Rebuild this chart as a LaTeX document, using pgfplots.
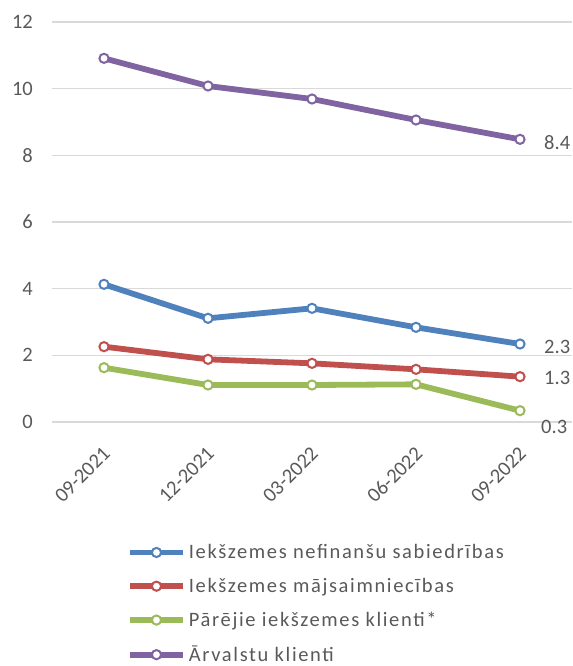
\documentclass[border=0pt]{standalone}
\usepackage{fontspec}
\setmainfont{Carlito}
\newfontfamily\legfont[LetterSpace=8]{Carlito}
\usepackage{pgfplots}
\pgfplotsset{compat=1.18}
\definecolor{cblue}{HTML}{4F81BD}
\definecolor{cred}{HTML}{C0504D}
\definecolor{cgreen}{HTML}{9BBB59}
\definecolor{cpurple}{HTML}{8064A2}
\definecolor{ctext}{HTML}{595959}
\definecolor{cgrid}{HTML}{D9D9D9}
\newcommand{\cf}{\fontsize{20.5bp}{24bp}\selectfont}
\newcommand{\lf}{\legfont\fontsize{20.5bp}{24bp}\selectfont}
\begin{document}
\begin{tikzpicture}
\path[use as bounding box] (-52bp,-244bp) rectangle (521bp,422bp);
\begin{axis}[
  at={(0,0)}, anchor=south west,
  width=520bp, height=400bp, scale only axis,
  xmin=-0.5, xmax=4.5, ymin=0, ymax=12,
  xtick={0,1,2,3,4},
  xticklabels={09-2021,12-2021,03-2022,06-2022,09-2022},
  ytick={0,2,4,6,8,10,12},
  ymajorgrids, grid style={cgrid, line width=1.3bp},
  axis line style={draw=none},
  major tick length=0pt,
  clip=false,
  /pgf/number format/assume math mode=true,
  tick label style={font=\cf, text=ctext},
  x tick label style={rotate=45, anchor=north east, inner sep=0pt, yshift=-15bp, xshift=-18bp},
  y tick label style={anchor=east, inner sep=0pt, xshift=-19bp},
  every axis plot/.append style={line width=5.8bp, mark=*, mark size=4.6bp,
    mark options={fill=white, line width=2bp}},
  legend style={at={(0.144,-0.301)}, anchor=north west, draw=none, fill=none,
    font=\lf, text=ctext, inner sep=0pt, row sep=14bp,
    nodes={inner xsep=3bp, inner ysep=2bp}, cells={anchor=west}},
  legend image code/.code={\draw[#1, mark repeat=2, mark phase=2] plot coordinates {(0bp,0bp) (26.5bp,0bp) (53bp,0bp)};},
]
\addplot[cblue] coordinates {(0,4.13) (1,3.11) (2,3.41) (3,2.84) (4,2.34)};
\addlegendentry{Iekšzemes nefinanšu sabiedrības}
\addplot[cred] coordinates {(0,2.26) (1,1.88) (2,1.76) (3,1.58) (4,1.36)};
\addlegendentry{Iekšzemes mājsaimniecības}
\addplot[cgreen] coordinates {(0,1.63) (1,1.11) (2,1.11) (3,1.13) (4,0.34)};
\addlegendentry{Pārējie iekšzemes klienti*}
\addplot[cpurple] coordinates {(0,10.91) (1,10.08) (2,9.69) (3,9.06) (4,8.48)};
\addlegendentry{Ārvalstu klienti}
\node[anchor=west, inner sep=0pt, font=\cf, text=ctext, xshift=24bp, yshift=-3bp] at (axis cs:4,8.48) {8.4};
\node[anchor=west, inner sep=0pt, font=\cf, text=ctext, xshift=24bp, yshift=-3bp] at (axis cs:4,2.34) {2.3};
\node[anchor=west, inner sep=0pt, font=\cf, text=ctext, xshift=24bp, yshift=-1bp] at (axis cs:4,1.36) {1.3};
\node[anchor=west, inner sep=0pt, font=\cf, text=ctext, xshift=21bp, yshift=-16bp] at (axis cs:4,0.34) {0.3};
\end{axis}
\end{tikzpicture}
\end{document}
